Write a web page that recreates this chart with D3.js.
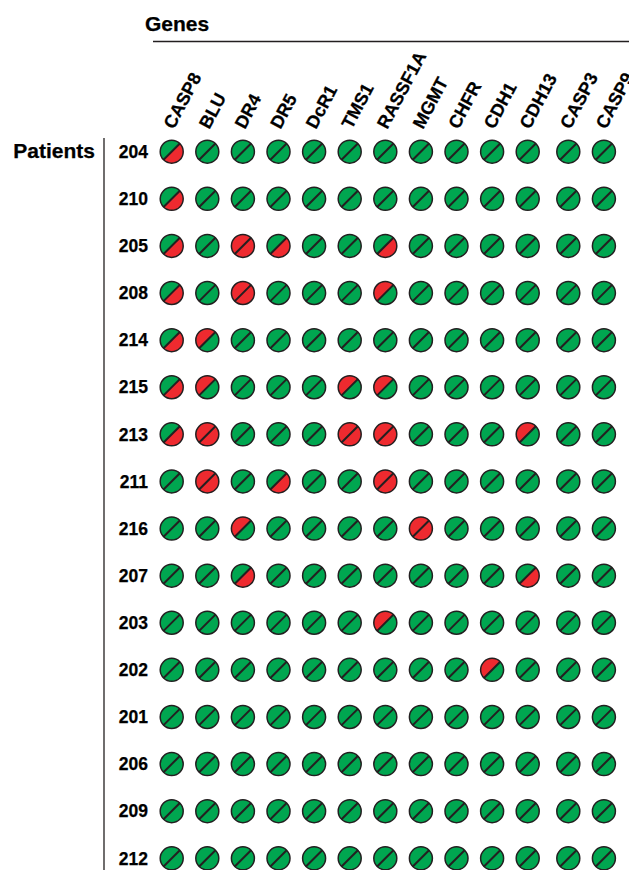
<!DOCTYPE html>
<html>
<head>
<meta charset="utf-8">
<script src="https://cdn.jsdelivr.net/npm/d3@7"></script>
<style>
  html, body { margin: 0; padding: 0; background: #fff; }
  text { font-family: "Liberation Sans", Arial, Helvetica, sans-serif; font-weight: bold; fill: #000; stroke: #000; stroke-width: 0.25; }
</style>
</head>
<body>
<svg id="chart" width="629" height="870"></svg>
<script>
const genes = ["CASP8", "BLU", "DR4", "DR5", "DcR1", "TMS1", "RASSF1A", "MGMT", "CHFR", "CDH1", "CDH13", "CASP3", "CASP9"];
const patients = ["204", "210", "205", "208", "214", "215", "213", "211", "216", "207", "203", "202", "201", "206", "209", "212"];
// 1 = methylated (red) in the upper-left half of the circle
const upperHalf = [
  [0,0,0,0,0,0,0,0,0,0,0,0,0],
  [0,0,0,0,0,0,0,0,0,0,0,0,0],
  [0,0,1,0,0,0,0,0,0,0,0,0,0],
  [0,0,1,0,0,0,1,0,0,0,0,0,0],
  [0,1,0,0,0,0,0,0,0,0,0,0,0],
  [0,1,0,0,0,1,1,0,0,0,0,0,0],
  [0,1,0,0,0,1,1,0,0,0,1,0,0],
  [0,1,0,0,0,0,1,0,0,0,0,0,0],
  [0,0,1,0,0,0,0,1,0,0,0,0,0],
  [0,0,0,0,0,0,0,0,0,0,0,0,0],
  [0,0,0,0,0,0,1,0,0,0,0,0,0],
  [0,0,0,0,0,0,0,0,0,1,0,0,0],
  [0,0,0,0,0,0,0,0,0,0,0,0,0],
  [0,0,0,0,0,0,0,0,0,0,0,0,0],
  [0,0,0,0,0,0,0,0,0,0,0,0,0],
  [0,0,0,0,0,0,0,0,0,0,0,0,0]
];
// 1 = methylated (red) in the lower-right half of the circle
const lowerHalf = [
  [1,0,0,0,0,0,0,0,0,0,0,0,0],
  [1,0,0,0,0,0,0,0,0,0,0,0,0],
  [1,0,1,1,0,0,1,0,0,0,0,0,0],
  [1,0,1,0,0,0,0,0,0,0,0,0,0],
  [1,0,0,0,0,0,0,0,0,0,0,0,0],
  [1,0,0,0,0,0,0,0,0,0,0,0,0],
  [1,1,0,0,0,1,1,0,0,0,0,0,0],
  [0,1,0,1,0,0,1,0,0,0,0,0,0],
  [0,0,0,0,0,0,0,1,0,0,0,0,0],
  [0,0,1,0,0,0,0,0,0,0,1,0,0],
  [0,0,0,0,0,0,0,0,0,0,0,0,0],
  [0,0,0,0,0,0,0,0,0,0,0,0,0],
  [0,0,0,0,0,0,0,0,0,0,0,0,0],
  [0,0,0,0,0,0,0,0,0,0,0,0,0],
  [0,0,0,0,0,0,0,0,0,0,0,0,0],
  [0,0,0,0,0,0,0,0,0,0,0,0,0]
];
const groupGapAfter = "CDH13";

const RED = "#EE2A2F", GREEN = "#00A650", INK = "#231F20";
const svg = d3.select("#chart");

const xPt = d3.scalePoint().domain(genes).range([171.7, 598.9]);
const gapIndex = genes.indexOf(groupGapAfter);
const x = g => xPt(g) + (genes.indexOf(g) > gapIndex ? 5 : 0);
const y = d3.scalePoint().domain(patients).range([151.7, 858.3]);
const color = d3.scaleOrdinal().domain([0, 1]).range([GREEN, RED]);

const r = 11.5;
const upperArc = d3.arc().innerRadius(0).outerRadius(r).startAngle(-3 * Math.PI / 4).endAngle(Math.PI / 4);
const lowerArc = d3.arc().innerRadius(0).outerRadius(r).startAngle(Math.PI / 4).endAngle(5 * Math.PI / 4);

// Titles and axis lines
svg.append("text").attr("x", 145).attr("y", 31).attr("font-size", 21).text("Genes");
svg.append("line").attr("x1", 153).attr("x2", 629).attr("y1", 41.5).attr("y2", 41.5)
  .attr("stroke", INK).attr("stroke-width", 1.3);
svg.append("text").attr("x", 95).attr("y", 158).attr("text-anchor", "end").attr("font-size", 21).text("Patients");
svg.append("line").attr("x1", 104).attr("x2", 104).attr("y1", 138).attr("y2", 870)
  .attr("stroke", INK).attr("stroke-width", 1.3);

// Gene labels
svg.append("g").selectAll("text").data(genes).join("text")
  .attr("transform", g => `translate(${x(g) + 2},${130}) rotate(-62)`)
  .attr("font-size", 18)
  .text(g => g);

// Patient labels
svg.append("g").selectAll("text").data(patients).join("text")
  .attr("x", 148).attr("y", p => y(p) + 6.2)
  .attr("text-anchor", "end").attr("font-size", 17.5)
  .text(p => p);

// Cells
const cells = [];
patients.forEach((p, i) => genes.forEach((g, j) => {
  cells.push({ p, g, up: upperHalf[i][j], lo: lowerHalf[i][j] });
}));

const cell = svg.append("g").selectAll("g").data(cells).join("g")
  .attr("transform", d => `translate(${x(d.g)},${y(d.p)})`);
cell.append("path").attr("d", upperArc()).attr("fill", d => color(d.up));
cell.append("path").attr("d", lowerArc()).attr("fill", d => color(d.lo));
cell.append("circle").attr("r", r).attr("fill", "none").attr("stroke", INK).attr("stroke-width", 1.5);
const k = r * Math.SQRT1_2;
cell.append("line").attr("x1", -k).attr("y1", k).attr("x2", k).attr("y2", -k)
  .attr("stroke", INK).attr("stroke-width", 2);
</script>
</body>
</html>
